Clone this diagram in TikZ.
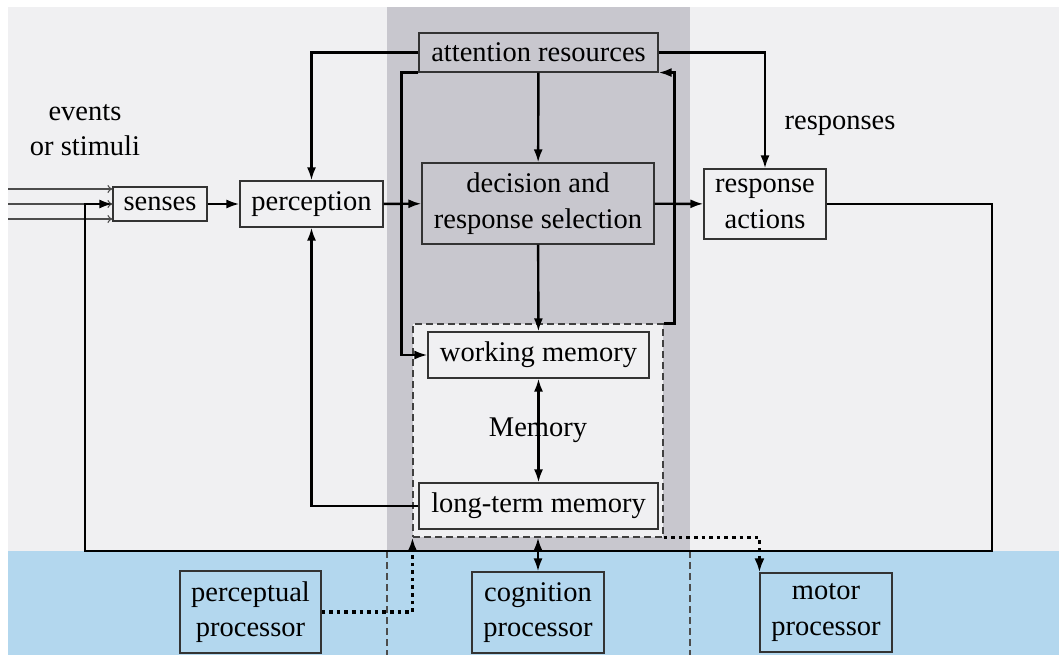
\documentclass[tikz,border=0pt]{standalone}
\usepackage{fontspec}
\setmainfont{Liberation Serif}
\usetikzlibrary{arrows.meta}
\definecolor{bglight}{HTML}{F0F0F2}
\definecolor{colgray}{HTML}{C8C7CE}
\definecolor{procblue}{HTML}{B3D7EE}
\definecolor{edge}{HTML}{333333}
\begin{document}
\begin{tikzpicture}[x=1pt,y=-1pt,
  every node/.style={font=\fontsize{28.5}{35.5}\selectfont, align=center, inner sep=0pt},
  box/.style={draw=edge, line width=1.1pt, fill=bglight},
  graybox/.style={box, fill=colgray},
  procbox/.style={box, fill=procblue},
  flow/.style={line width=2.4pt, -{Latex[length=13pt,width=9pt]}},
  flowboth/.style={line width=2.4pt, {Latex[length=13pt,width=9pt]}-{Latex[length=13pt,width=9pt]}},
  link/.style={line width=3.6pt, dash pattern=on 3.6pt off 4pt, -{Latex[length=14pt,width=10pt]}},
  input/.style={line width=1.1pt, draw=black!70, -{To[length=5pt,width=8pt]}},
  divider/.style={line width=1.1pt, draw=black!70, dash pattern=on 7pt off 4pt}
]
\useasboundingbox (0,0) rectangle (1059,655);
% backgrounds
\fill[bglight] (8,7) rectangle (1059,551);
\fill[colgray] (387,7) rectangle (690,551);
\fill[procblue] (8,551) rectangle (1059,655);
\draw[divider] (387,551) -- (387,655);
\draw[divider] (690,551) -- (690,655);

% memory group
\node[draw=black!75, line width=1.1pt, dash pattern=on 7pt off 4pt, fill=bglight,
      minimum width=250pt, minimum height=213pt] (mem) at (538,430.5) {};
\node (memlbl) at (538,430) {Memory};

% boxes
\node[graybox, minimum width=239pt, minimum height=39pt] (att) at (538.5,52.5) {attention resources};
\node[box, minimum width=94pt, minimum height=34pt] (sen) at (160,204) {senses};
\node[box, minimum width=143pt, minimum height=46pt] (per) at (311.5,204) {perception};
\node[graybox, minimum width=232pt, minimum height=81pt] (dec) at (538,203.5) {decision and\\response selection};
\node[box, minimum width=122pt, minimum height=70pt] (resp) at (765,204) {response\\actions};
\node[box, minimum width=221pt, minimum height=46pt] (wm) at (538.5,355) {working memory};
\node[box, minimum width=239pt, minimum height=46pt] (ltm) at (538.5,506) {long-term memory};
\node[procbox, minimum width=141pt, minimum height=82pt] (pp) at (250.5,612) {perceptual\\processor};
\node[procbox, minimum width=132pt, minimum height=81pt] (cp) at (538,612.5) {cognition\\processor};
\node[procbox, minimum width=132pt, minimum height=79pt] (mp) at (826,612.5) {motor\\processor};

% free labels
\node (events) at (85,130) {events\\or stimuli};
\node (resplbl) at (840,126) {responses};

% incoming stimuli
\coordinate (in1) at (8,189);
\coordinate (in2) at (8,204);
\coordinate (in3) at (8,219);
\draw[input] (in1) -- (sen.west |- in1);
\draw[input] (in2) -- (sen.west);
\draw[input] (in3) -- (sen.west |- in3);

% main flow
\draw[flow] (sen) -- (per);
\draw[flow] (per) -- (dec);
\draw[flow] (dec) -- (resp);
\draw[flow] (att.west) -| (per.north);
\draw[flow] (att.east) -| (resp.north);
\draw[flow] (att) -- (dec);
\draw[flow] (dec) -- (wm);
\draw[flowboth] (wm) -- (ltm);
\draw[flow] (att.south west) -- ++(-17,0) |- (wm.west);
\draw[flow] (mem.north east) -- ++(11,0) |- (att.south east);
\draw[flow] (ltm.west) -| (per.south);

% feedback from responses back to the senses
\coordinate (fbR) at (992,551);
\coordinate (fbL) at (85,551);
\draw[flow] (resp.east) -| (fbR) -- (fbL) |- (sen.west);

% processors
\draw[flowboth] (mem.south) -- (cp.north);
\draw[link] (pp.east) -| (mem.south west);
\draw[link] (mem.south east) -| (mp.north west);
\end{tikzpicture}
\end{document}
